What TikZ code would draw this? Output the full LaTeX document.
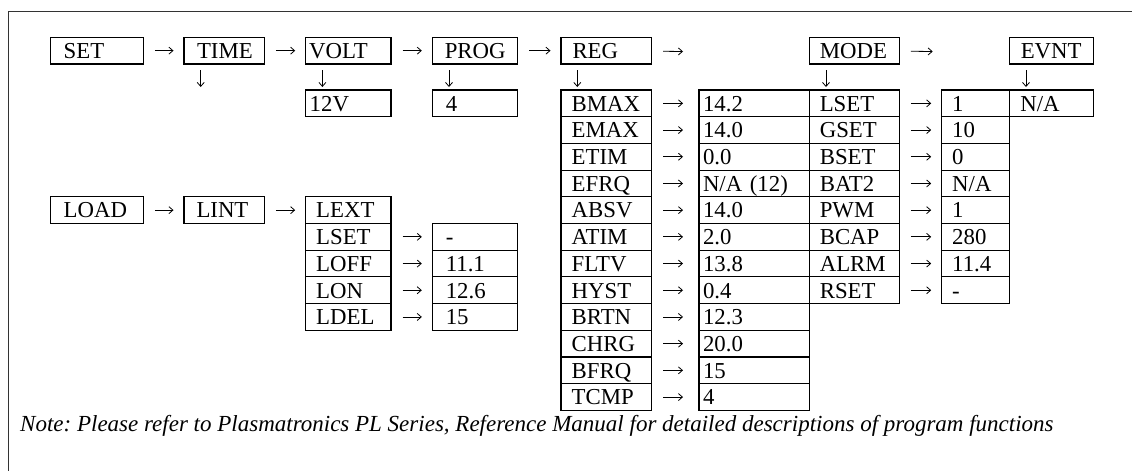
\documentclass[tikz,border=0pt]{standalone}
\usepackage{fontspec}
\setmainfont{Liberation Serif}
\usetikzlibrary{arrows.meta}
\frenchspacing
\newcommand\NA{N/A}
\newcommand\cell[7]{%
  \pgfmathsetmacro\cw{#4-#2-2*#6}%
  \pgfmathsetmacro\ch{#5-#3}%
  \node[cellbox, text width=\cw pt, inner xsep=#6pt, minimum height=\ch pt] (#1) at (#2,#3) {#7};}
\begin{document}
\begin{tikzpicture}[x=1pt,y=-1pt,
  cellbox/.style={draw, line width=1.1pt, anchor=north west, align=left, inner ysep=0pt, outer sep=0pt,
    text height=15.5pt, text depth=0pt, font=\fontsize{22.8}{25}\selectfont},
  harr/.style={line width=0.8pt, -{Straight Barb[length=4pt,width=7pt]}, shorten <=11.5pt, shorten >=10.5pt},
  harrw/.style={harr, shorten >=16pt},
  varr/.style={line width=0.8pt, -{Straight Barb[length=4pt,width=7pt]}, shorten <=6pt, shorten >=3pt}]
\useasboundingbox (0,0) rectangle (1132,471);
\draw[line width=0.9pt, black!80] (1132,11) -- (8.5,11) -- (8.5,471);

% top row
\cell{set}{50.7}{37.3}{143.3}{64}{13}{SET}
\cell{time}{184}{37.3}{264.3}{64}{13}{TIME}
\cell{volt}{305.7}{37.3}{391}{64}{3.5}{VOLT}
\cell{prog}{432.3}{37.3}{517.7}{64}{12.5}{PROG}
\cell{reg}{561}{37.3}{651.7}{64}{11.5}{REG}
\cell{mode}{809.3}{37.3}{899.3}{64}{10.5}{MODE}
\cell{evnt}{1009.3}{37.3}{1093.3}{64}{11.5}{EVNT}

\cell{v12}{305.7}{90}{391}{116.7}{4}{12V}
\cell{p4}{432.3}{90}{517.7}{116.7}{13.5}{4}
\cell{na}{1009.3}{90}{1093.3}{116.7}{11}{\NA}

\coordinate (regnext) at (683,51.5);
\coordinate (modenext) at (932.7,51.5);
\coordinate (timedown) at (200.7,87);

\draw[harr] (set) -- (time);
\draw[harr] (time) -- (volt);
\draw[harr] (volt) -- (prog);
\draw[harr] (prog) -- (reg);
\draw[harr, shorten >=0pt] (reg) -- (regnext);
\draw[harr, shorten >=0pt] (mode) -- (modenext);

\draw[varr, shorten >=0pt] ([xshift=16.7pt]time.south west) -- (timedown);
\draw[varr] ([xshift=16.7pt]volt.south west) -- ([xshift=16.7pt]v12.north west);
\draw[varr] ([xshift=16.7pt]prog.south west) -- ([xshift=16.7pt]p4.north west);
\draw[varr] ([xshift=16.7pt]evnt.south west) -- ([xshift=16.7pt]na.north west);

% REG column
\foreach \a/\b [count=\i] in {BMAX/14.2, EMAX/14.0, ETIM/0.0, EFRQ/\NA\ (12), ABSV/14.0, ATIM/2.0, FLTV/13.8, HYST/0.4, BRTN/12.3, CHRG/20.0, BFRQ/15, TCMP/4} {
  \pgfmathsetmacro\tp{90+(\i-1)*26.7}
  \pgfmathsetmacro\bt{\tp+26.7}
  \cell{r\i}{561}{\tp}{651.7}{\bt}{10.7}{\a}
  \cell{rv\i}{699}{\tp}{809.3}{\bt}{4}{\b}
  \draw[harrw] (r\i) -- (rv\i);
}
\draw[varr] ([xshift=16.3pt]reg.south west) -- ([xshift=16.3pt]r1.north west);

% MODE column
\foreach \a/\b [count=\i] in {LSET/1, GSET/10, BSET/0, BAT2/\NA, PWM/1, BCAP/280, ALRM/11.4, RSET/-} {
  \pgfmathsetmacro\tp{90+(\i-1)*26.7}
  \pgfmathsetmacro\bt{\tp+26.7}
  \cell{m\i}{809.3}{\tp}{899.3}{\bt}{10.5}{\a}
  \cell{mv\i}{941.7}{\tp}{1009.3}{\bt}{10.5}{\b}
  \draw[harr] (m\i) -- (mv\i);
}
\draw[varr] ([xshift=16.7pt]mode.south west) -- ([xshift=16.7pt]m1.north west);

% LOAD row
\cell{load}{50.7}{196.8}{143.3}{223.5}{13}{LOAD}
\cell{lint}{184}{196.8}{264.3}{223.5}{12.5}{LINT}
\cell{lext}{305.7}{196.8}{391}{223.5}{10.5}{LEXT}
\draw[harr] (load) -- (lint);
\draw[harr] (lint) -- (lext);
\foreach \a/\b [count=\i] in {LSET/-, LOFF/11.1, LON/12.6, LDEL/15} {
  \pgfmathsetmacro\tp{223.5+(\i-1)*26.7}
  \pgfmathsetmacro\bt{\tp+26.7}
  \cell{l\i}{305.7}{\tp}{391}{\bt}{10.5}{\a}
  \cell{lv\i}{432.3}{\tp}{517.7}{\bt}{13.5}{\b}
  \draw[harr] (l\i) -- (lv\i);
}

\node[anchor=base west, inner sep=0pt, font=\itshape\fontsize{23}{25}\selectfont] (note) at (20,431.7)
  {Note: Please refer to Plasmatronics PL Series, Reference Manual for detailed descriptions of program functions};
\end{tikzpicture}
\end{document}
